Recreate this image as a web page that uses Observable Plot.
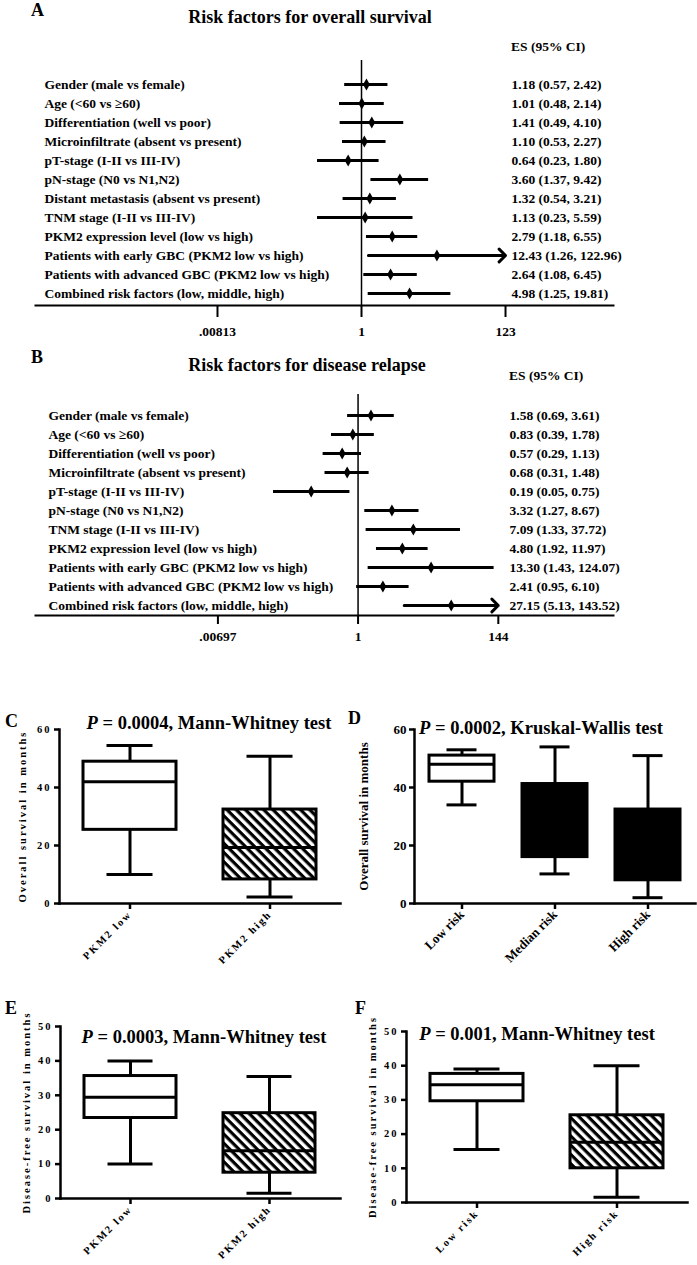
<!DOCTYPE html>
<html><head><meta charset="utf-8">
<script src="https://cdn.jsdelivr.net/npm/d3@7"></script>
<script src="https://cdn.jsdelivr.net/npm/@observablehq/plot@0.6"></script>
<style>
body{margin:0;background:#fff;}
#fig{position:relative;width:697px;height:1265px;overflow:hidden;background:#fff;font-family:"Liberation Serif","Times New Roman",serif;font-weight:bold;color:#000;}
#fig svg{position:absolute;}
.abs{position:absolute;white-space:nowrap;line-height:1;z-index:5;}
.letter{font-size:18px;}
.ctr{transform:translateX(-50%);}
.ftitle{font-size:18px;}
.es{font-size:13.5px;}
.ptitle{font-size:18.5px;}
</style></head><body><div id="fig"></div>
<script>
// ---------- Panel A: overall survival ----------
const labelsA = ["Gender (male vs female)","Age (<60 vs \u226560)","Differentiation (well vs poor)","Microinfiltrate (absent vs present)","pT-stage (I-II vs III-IV)","pN-stage (N0 vs N1,N2)","Distant metastasis (absent vs present)","TNM stage (I-II vs III-IV)","PKM2 expression level (low vs high)","Patients with early GBC (PKM2 low vs high)","Patients with advanced GBC (PKM2 low vs high)","Combined risk factors (low, middle, high)"];
const esA = [1.18,1.01,1.41,1.10,0.64,3.60,1.32,1.13,2.79,12.43,2.64,4.98];
const loA = [0.57,0.48,0.49,0.53,0.23,1.37,0.54,0.23,1.18,1.26,1.08,1.25];
const hiA = [2.42,2.14,4.10,2.27,1.80,9.42,3.21,5.59,6.55,122.96,6.45,19.81];
const arrowsA = ["Patients with early GBC (PKM2 low vs high)"];
const ticksA = [0.00813, 1, 123];
const tickLabelsA = [".00813", "1", "123"];

// ---------- Panel B: disease relapse ----------
const labelsB = ["Gender (male vs female)","Age (<60 vs \u226560)","Differentiation (well vs poor)","Microinfiltrate (absent vs present)","pT-stage (I-II vs III-IV)","pN-stage (N0 vs N1,N2)","TNM stage (I-II vs III-IV)","PKM2 expression level (low vs high)","Patients with early GBC (PKM2 low vs high)","Patients with advanced GBC (PKM2 low vs high)","Combined risk factors (low, middle, high)"];
const esB = [1.58,0.83,0.57,0.68,0.19,3.32,7.09,4.80,13.30,2.41,27.15];
const loB = [0.69,0.39,0.29,0.31,0.05,1.27,1.33,1.92,1.43,0.95,5.13];
const hiB = [3.61,1.78,1.13,1.48,0.75,8.67,37.72,11.97,124.07,6.10,143.52];
const arrowsB = ["Combined risk factors (low, middle, high)"];
const ticksB = [0.00697, 1, 144];
const tickLabelsB = [".00697", "1", "144"];

// ---------- Panel C ----------
const groupsC = ["PKM2 low", "PKM2 high"];
const lowC = [10, 2.2], q1C = [25.4, 8.3], medC = [42, 19.3], q3C = [48.9, 32.4], highC = [54.5, 50.8];
// ---------- Panel D ----------
const groupsD = ["Low risk", "Median risk", "High risk"];
const lowD = [34, 10.2, 2], q1D = [42, 16, 8], medD = [48, 27, 19.3], q3D = [51, 41.2, 32.4], highD = [53, 54, 51];
// ---------- Panel E ----------
const groupsE = ["PKM2 low", "PKM2 high"];
const lowE = [10, 1.5], q1E = [23.4, 7.5], medE = [29.4, 13.9], q3E = [35.6, 24.8], highE = [40, 35.5];
// ---------- Panel F ----------
const groupsF = ["Low risk", "High risk"];
const lowF = [15.5, 1.5], q1F = [29.6, 10], medF = [34.4, 17.6], q3F = [37.6, 25.5], highF = [39, 40];

const fig = document.getElementById("fig");

function place(svg, left, top) {
  svg.style.left = left + "px";
  svg.style.top = top + "px";
  fig.appendChild(svg);
}
function addText(html, cls, left, top) {
  const d = document.createElement("div");
  d.className = "abs " + cls;
  d.style.left = left + "px";
  d.style.top = top + "px";
  d.innerHTML = html;
  fig.appendChild(d);
}

function forest(o) {
  const rows = o.labels.map((label, i) => ({
    label, es: o.es[i], lo: o.lo[i], hi: o.hi[i],
    arrow: o.arrows.includes(label),
    text: `${o.es[i].toFixed(2)} (${o.lo[i].toFixed(2)}, ${o.hi[i].toFixed(2)})`
  }));
  const tickRows = o.ticks.map((t, i) => ({t, label: o.tickLabels[i]}));
  return Plot.plot({
    width: 697, height: o.height,
    marginTop: o.marginTop, marginBottom: o.marginBottom, marginLeft: 35, marginRight: 84,
    style: {fontFamily: "Liberation Serif, Times New Roman, serif", fontWeight: "bold", fontSize: "13.5px", color: "black", background: "transparent", overflow: "visible"},
    x: {type: "log", domain: o.domain},
    y: {type: "point", domain: o.labels, range: o.yRange, padding: 0, axis: null},
    marks: [
      Plot.frame({anchor: "bottom", strokeWidth: 2}),
      Plot.ruleX([1], {strokeWidth: 1.5}),
      Plot.ruleY(rows.filter(d => !d.arrow), {y: "label", x1: "lo", x2: "hi", strokeWidth: 3}),
      Plot.arrow(rows.filter(d => d.arrow), {y1: "label", y2: "label", x1: "lo", x2: "hi", strokeWidth: 3, headLength: 4.5, headAngle: 90}),
      Plot.dot(rows, {x: "es", y: "label", symbol: "diamond", r: 3.6, fill: "black"}),
      Plot.text(rows, {y: "label", text: "label", frameAnchor: "left", dx: o.labelDx, textAnchor: "start"}),
      Plot.text(rows, {y: "label", text: "text", frameAnchor: "left", dx: o.valueDx, textAnchor: "start"}),
      Plot.axisX({ticks: o.ticks, tickFormat: () => "", tickSize: o.tickSize, strokeWidth: 2, label: null}),
      Plot.text(tickRows, {x: "t", text: "label", frameAnchor: "bottom", lineAnchor: "top", dy: o.tickSize + o.tickPadding})
    ]
  });
}

function boxPanel(o) {
  const rows = o.groups.map((g, i) => ({g, low: o.low[i], q1: o.q1[i], med: o.med[i], q3: o.q3[i], high: o.high[i]}));
  const svg = Plot.plot({
    width: o.width, height: o.height,
    marginLeft: o.ml, marginRight: o.mr, marginTop: o.mt, marginBottom: o.mb,
    style: {fontFamily: "Liberation Serif, Times New Roman, serif", fontWeight: "bold", fontSize: o.fontSize, letterSpacing: o.letterSpacing, color: "black", background: "transparent", overflow: "visible"},
    x: {type: "band", domain: o.groups, paddingInner: o.pi, paddingOuter: o.po},
    y: {domain: o.yDomain},
    color: {type: "ordinal", domain: o.groups, range: o.fills},
    marks: [
      Plot.ruleX(rows, {x: "g", y1: "low", y2: "q1", strokeWidth: 3}),
      Plot.ruleX(rows, {x: "g", y1: "q3", y2: "high", strokeWidth: 3}),
      Plot.tickY(rows, {x: "g", y: "low", strokeWidth: 3, insetLeft: o.cap, insetRight: o.cap}),
      Plot.tickY(rows, {x: "g", y: "high", strokeWidth: 3, insetLeft: o.cap, insetRight: o.cap}),
      Plot.barY(rows, {x: "g", y1: "q1", y2: "q3", fill: "g", stroke: "black", strokeWidth: 3}),
      Plot.tickY(rows, {x: "g", y: "med", strokeWidth: 3}),
      Plot.axisY({ticks: o.yTicks, tickSize: 5, tickPadding: 3, strokeWidth: 2.5, label: o.yLabel, labelAnchor: "center", labelArrow: "none", labelOffset: o.labelOffset}),
      Plot.axisX({tickRotate: -45, tickSize: 6, tickPadding: 3, strokeWidth: 2.5, label: null}),
      Plot.frame({anchor: "left", strokeWidth: 2.5}),
      Plot.frame({anchor: "bottom", strokeWidth: 2.5})
    ]
  });
  if (o.patternId) {
    const defs = d3.select(svg).insert("defs", ":first-child");
    const p = defs.append("pattern").attr("id", o.patternId).attr("patternUnits", "userSpaceOnUse")
      .attr("width", 6.5).attr("height", 6.5).attr("patternTransform", "rotate(45)");
    p.append("rect").attr("width", 6.5).attr("height", 6.5).attr("fill", "white");
    p.append("rect").attr("width", 6.5).attr("height", 3.2).attr("fill", "black");
  }
  return svg;
}

// Panel A
place(forest({labels: labelsA, es: esA, lo: loA, hi: hiA, arrows: arrowsA, ticks: ticksA, tickLabels: tickLabelsA,
  domain: [Math.pow(10, -4.731), Math.pow(10, 3.657)], height: 340, marginTop: 60, marginBottom: 35, yRange: [81, 295],
  labelDx: 9, valueDx: 476, tickSize: 12, tickPadding: 9}), 0, 0);
// Panel B
place(forest({labels: labelsB, es: esB, lo: loB, hi: hiB, arrows: arrowsB, ticks: ticksB, tickLabels: tickLabelsB,
  domain: [Math.pow(10, -4.964), Math.pow(10, 3.931)], height: 320, marginTop: 54, marginBottom: 45, yRange: [72, 267],
  labelDx: 13, valueDx: 474, tickSize: 9, tickPadding: 7}), 0, 340);

// Panel C
place(boxPanel({groups: groupsC, low: lowC, q1: q1C, med: medC, q3: q3C, high: highC, fills: ["white", "url(#hatchC)"], patternId: "hatchC",
  width: 345, height: 280, ml: 59, mr: 5, mt: 29, mb: 77, pi: 0.336, po: 0.17, cap: 23.5,
  yDomain: [0, 60], yTicks: [0, 20, 40, 60], yLabel: "Overall survival in months", labelOffset: 41,
  fontSize: "10.5px", letterSpacing: "2px"}), 0, 700);
// Panel D
place(boxPanel({groups: groupsD, low: lowD, q1: q1D, med: medD, q3: q3D, high: highD, fills: ["white", "black", "black"],
  width: 352, height: 280, ml: 69, mr: 2, mt: 29, mb: 77, pi: 0.30, po: 0.16, cap: 17.5,
  yDomain: [0, 60], yTicks: [0, 20, 40, 60], yLabel: "Overall survival in months", labelOffset: 56,
  fontSize: "13px", letterSpacing: "0px"}), 345, 700);
// Panel E
place(boxPanel({groups: groupsE, low: lowE, q1: q1E, med: medE, q3: q3E, high: highE, fills: ["white", "url(#hatchE)"], patternId: "hatchE",
  width: 345, height: 265, ml: 60, mr: 5, mt: 26, mb: 67, pi: 0.336, po: 0.17, cap: 23.5,
  yDomain: [0, 50], yTicks: [0, 10, 20, 30, 40, 50], yLabel: "Disease-free survival in months", labelOffset: 38,
  fontSize: "10.5px", letterSpacing: "2px"}), 0, 1000);
// Panel F
place(boxPanel({groups: groupsF, low: lowF, q1: q1F, med: medF, q3: q3F, high: highF, fills: ["white", "url(#hatchF)"], patternId: "hatchF",
  width: 352, height: 265, ml: 61, mr: 10, mt: 31, mb: 63, pi: 0.336, po: 0.17, cap: 23.5,
  yDomain: [0, 50], yTicks: [0, 10, 20, 30, 40, 50], yLabel: "Disease-free survival in months", labelOffset: 38,
  fontSize: "10.5px", letterSpacing: "2px"}), 345, 1000);

// Titles and panel letters
addText("A", "letter", 31, 1);
addText("Risk factors for overall survival", "ftitle ctr", 310, 8);
addText("ES (95% CI)", "es", 511, 40);
addText("B", "letter", 31, 348);
addText("Risk factors for disease relapse", "ftitle ctr", 307, 356);
addText("ES (95% CI)", "es", 509, 369);
addText("C", "letter", 5, 712);
addText("<i>P</i> = 0.0004, Mann-Whitney test", "ptitle ctr", 209, 714);
addText("D", "letter", 348, 709);
addText("<i>P</i> = 0.0002, Kruskal-Wallis test", "ptitle ctr", 541, 719);
addText("E", "letter", 5, 999);
addText("<i>P</i> = 0.0003, Mann-Whitney test", "ptitle ctr", 204, 1028);
addText("F", "letter", 355, 999);
addText("<i>P</i> = 0.001, Mann-Whitney test", "ptitle ctr", 537, 1025);
</script></body></html>
